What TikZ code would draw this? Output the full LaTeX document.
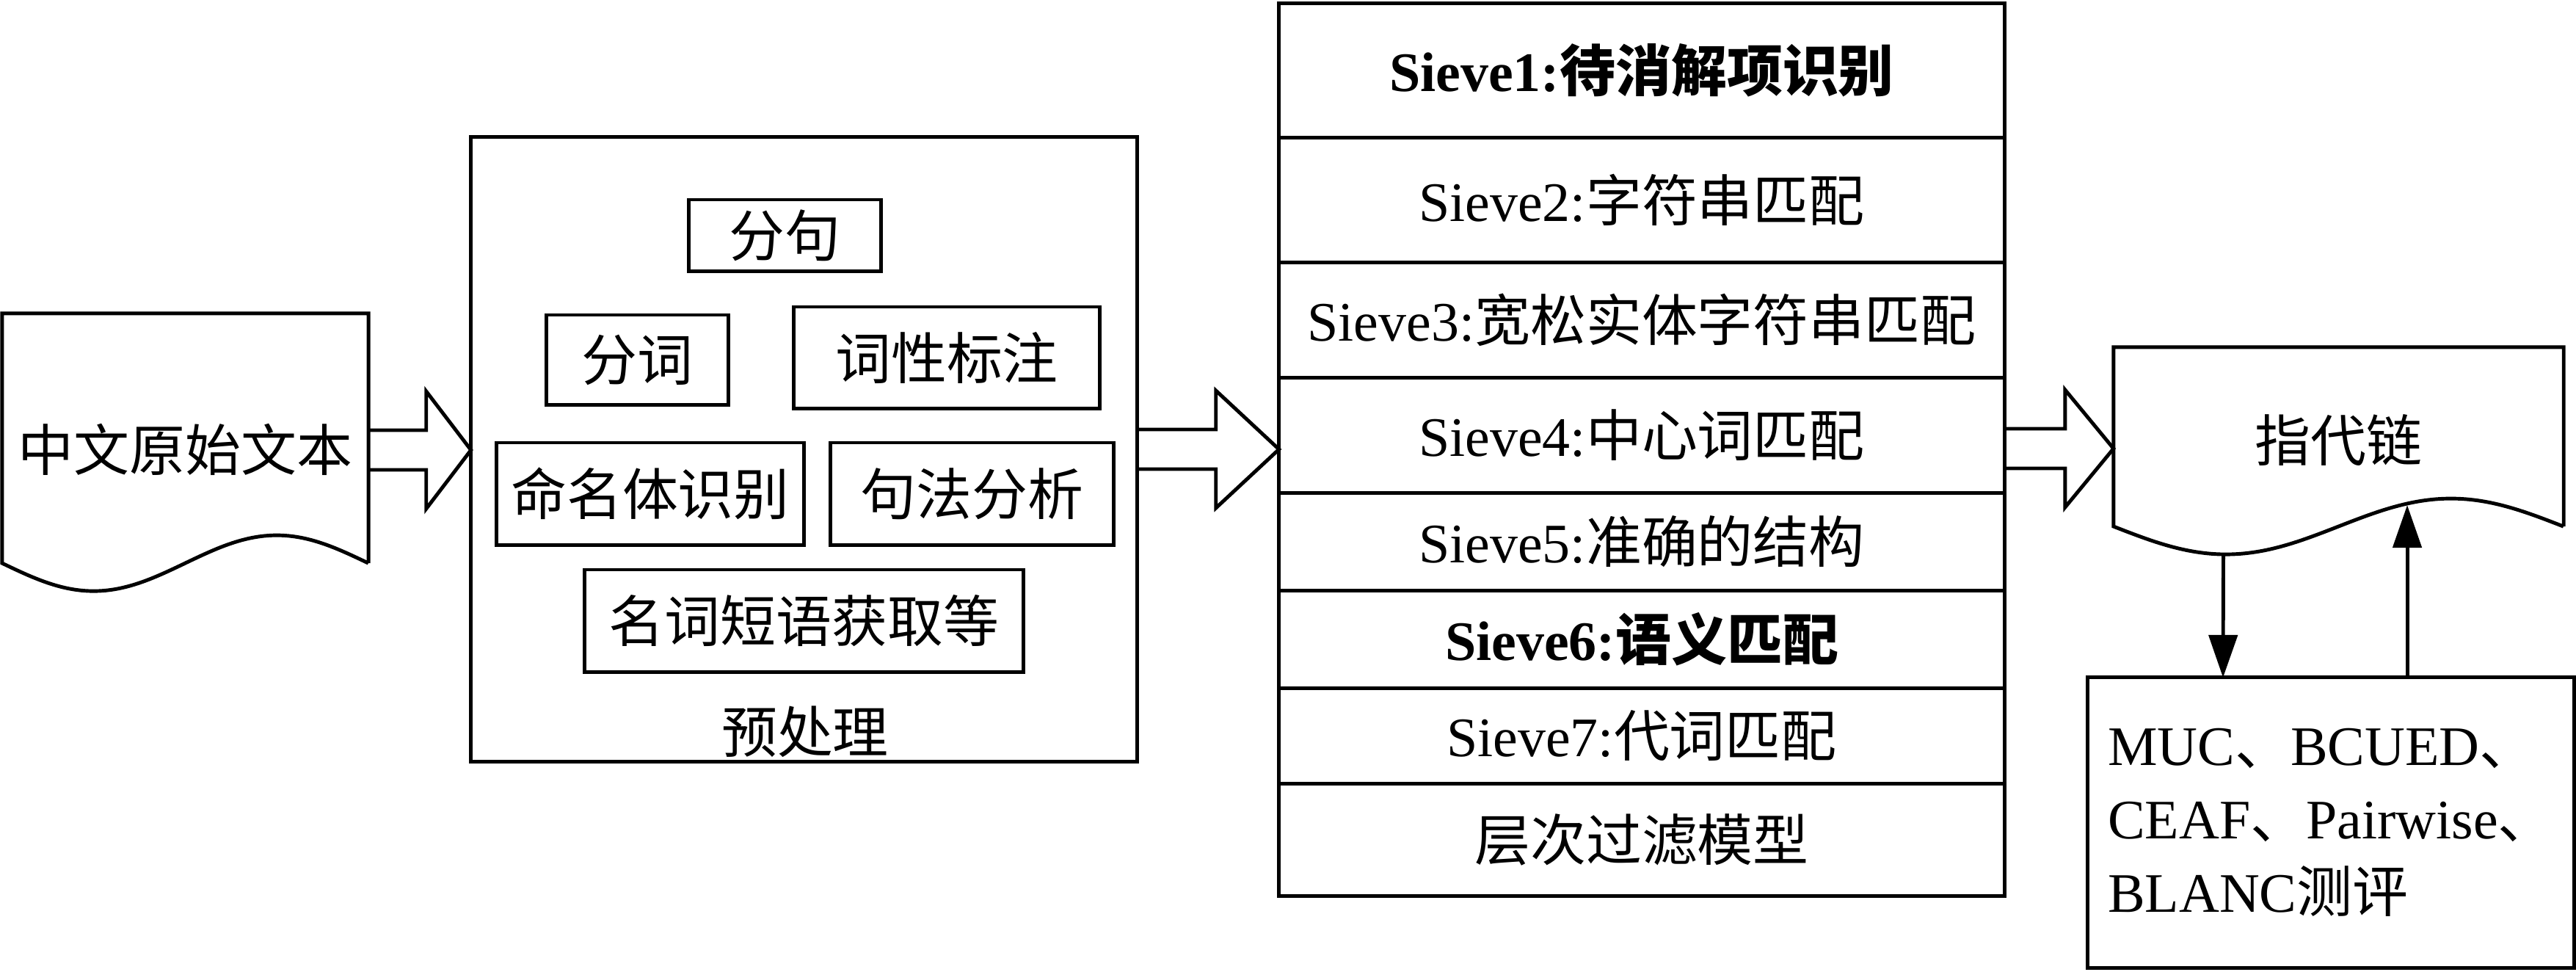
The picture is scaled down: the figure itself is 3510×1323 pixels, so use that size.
\documentclass[tikz,border=0pt]{standalone}
\usepackage{fontspec}
\setmainfont{Liberation Serif}
\newfontfamily\cjk{Noto Sans CJK SC}
\usepackage{tikz}
\usetikzlibrary{positioning}
\usetikzlibrary{arrows.meta,calc}
\tikzset{flow/.style = {-{Triangle[width=3.9mm,length=5.8mm]}}}
\tikzset{fat/.style = {line join=miter}}

\newcommand{\docshape}[3]{%
  \draw ($(#1.south east)+(0,-#3)$) |- (#1.north west) -- ($(#1.south west)+(0,-#3)$)
    sin ++(#2,38) cos ++(#2,-38) sin ++(#2,-38) cos ++(#2,38);}

\newcommand{\fatarrow}[4]{%
  \path (#1.east |- 0,#3) coordinate (fs) (#2.west |- 0,#3) coordinate (ft);
  \draw[fat] ($(fs)+(0,-27)$) -- ($(ft)+(-#4,-27)$) -- ($(ft)+(-#4,-80)$) -- (ft)
    -- ($(ft)+(-#4,80)$) -- ($(ft)+(-#4,27)$) -- ($(fs)+(0,27)$);}

\begin{document}
\begin{tikzpicture}[x=0.01cm,y=-0.01cm,line width=1.4pt,outer sep=0pt,font=\fontsize{21.6}{26}\selectfont,
                    box/.style={draw,inner sep=0pt},
                    row/.style={draw,minimum width=9.88cm,inner sep=0pt}]
                    \useasboundingbox (0,0) rectangle (3510,1323);

                    \node (1) [minimum width=4.99cm, minimum height=3.7cm] at (252.5,612) {\cjk 中文原始文本};
                    \docshape{1}{124.75}{30}

                    \node[box, minimum width=9.07cm, minimum height=8.5cm] (2) at (1095.5,612) {};
                    \node[box, minimum width=2.61cm, minimum height=0.97cm] (2a) at (1069.5,320.5) {\cjk 分句};
                    \node[box, minimum width=2.47cm, minimum height=1.22cm] (2b) at (868.5,490) {\cjk 分词};
                    \node[box, minimum width=4.16cm, minimum height=1.38cm] (2c) at (1290,487) {\cjk 词性标注};
                    \node[box, minimum width=4.18cm, minimum height=1.39cm] (2d) at (886,672.5) {\cjk 命名体识别};
                    \node[box, minimum width=3.86cm, minimum height=1.39cm] (2e) [right=0.36cm of 2d] {\cjk 句法分析};
                    \node[box, minimum width=5.97cm, minimum height=1.39cm] (2f) at (1095.5,845.5) {\cjk 名词短语获取等};
                    \node (2g) at (1097,997) {\cjk 预处理};

                    \node[row, minimum height=1.82cm] (s1) at (2237,96) {\bfseries Sieve1:{\cjk 待消解项识别}};
                    \node[row, minimum height=1.70cm] (s2) [below=0pt of s1] {Sieve2:{\cjk 字符串匹配}};
                    \node[row, minimum height=1.57cm] (s3) [below=0pt of s2] {Sieve3:{\cjk 宽松实体字符串匹配}};
                    \node[row, minimum height=1.57cm] (s4) [below=0pt of s3] {Sieve4:{\cjk 中心词匹配}};
                    \node[row, minimum height=1.33cm] (s5) [below=0pt of s4] {Sieve5:{\cjk 准确的结构}};
                    \node[row, minimum height=1.33cm] (s6) [below=0pt of s5] {\bfseries Sieve6:{\cjk 语义匹配}};
                    \node[row, minimum height=1.30cm] (s7) [below=0pt of s6] {Sieve7:{\cjk 代词匹配}};
                    \node[row, minimum height=1.53cm] (s8) [below=0pt of s7] {\cjk 层次过滤模型};

                    \node (3) [minimum width=6.13cm, minimum height=2.54cm] at (3186.5,600) {\cjk 指代链};
                    \docshape{3}{153.25}{10}

                    \node[box, minimum width=6.62cm, minimum height=3.95cm, align=left,
                          font=\fontsize{21.6}{28.5}\selectfont] (4) at (3176,1120.5)
                          {MUC{\cjk 、}BCUED{\cjk 、}\\CEAF{\cjk 、}Pairwise{\cjk 、}\\BLANC{\cjk 测评}};

                    \fatarrow{1}{2}{613}{61}
                    \fatarrow{2}{s4}{612}{86}
                    \fatarrow{s4}{3}{611}{66}

                    \draw[flow] ($(3.south)+(-157,30)$) -- ($(4.north)+(-147,0)$);
                    \draw[flow] ($(4.north)+(104,0)$) -- ($(3.south)+(93.5,-39)$);
                \end{tikzpicture}
\end{document}
